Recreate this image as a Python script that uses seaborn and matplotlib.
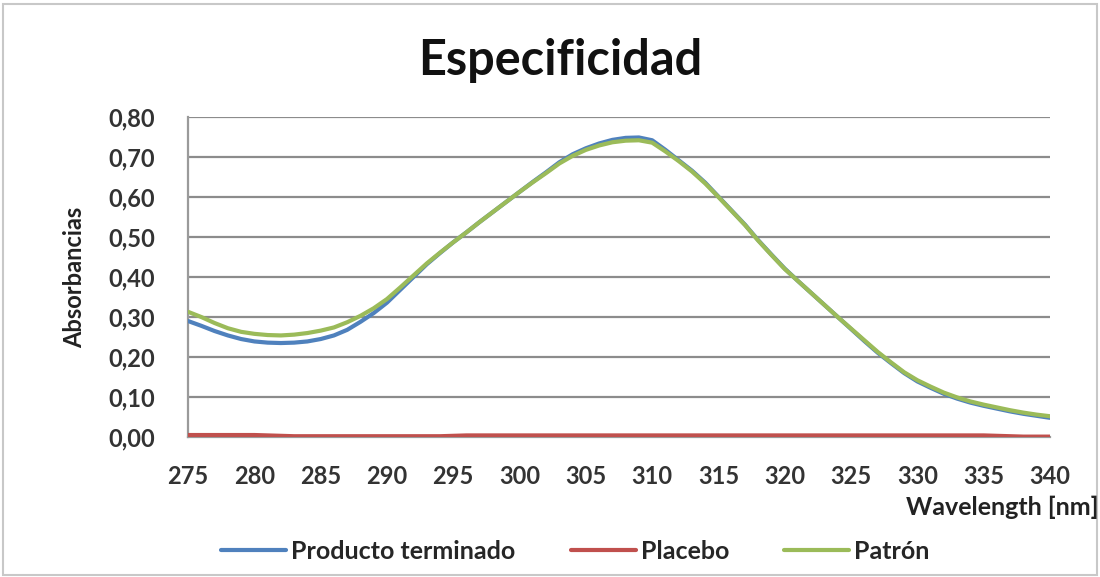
import numpy as np
import pandas as pd
import matplotlib
matplotlib.use("Agg")
import matplotlib.pyplot as plt
import seaborn as sns
from matplotlib.ticker import FuncFormatter, MultipleLocator

# datos (1 nm)
wavelength = list(range(275, 341))

producto = [0.290, 0.278, 0.265, 0.254, 0.245, 0.239, 0.236, 0.235, 0.236, 0.239,
            0.245, 0.254, 0.268, 0.288, 0.310, 0.336, 0.368, 0.400, 0.432, 0.460,
            0.487, 0.512, 0.538, 0.563, 0.588, 0.613, 0.638, 0.662, 0.687, 0.707,
            0.722, 0.734, 0.743, 0.748, 0.749, 0.742, 0.718, 0.692, 0.666, 0.636,
            0.601, 0.566, 0.531, 0.492, 0.456, 0.421, 0.390, 0.360, 0.330, 0.300,
            0.270, 0.240, 0.211, 0.185, 0.160, 0.139, 0.123, 0.108, 0.096, 0.086,
            0.078, 0.071, 0.064, 0.058, 0.053, 0.048]

placebo = [0.005, 0.005, 0.005, 0.005, 0.005, 0.005, 0.004, 0.003, 0.002, 0.002,
           0.002, 0.002, 0.002, 0.002, 0.002, 0.002, 0.002, 0.002, 0.002, 0.002,
           0.003, 0.004, 0.004, 0.004, 0.004, 0.004, 0.004, 0.004, 0.004, 0.004,
           0.004, 0.004, 0.004, 0.004, 0.004, 0.004, 0.004, 0.004, 0.004, 0.004,
           0.004, 0.004, 0.004, 0.004, 0.004, 0.004, 0.004, 0.004, 0.004, 0.004,
           0.004, 0.004, 0.004, 0.004, 0.004, 0.004, 0.004, 0.004, 0.004, 0.004,
           0.004, 0.003, 0.002, 0.001, 0.001, 0.001]

patron = [0.313, 0.300, 0.285, 0.272, 0.263, 0.258, 0.255, 0.254, 0.256, 0.260,
          0.266, 0.274, 0.287, 0.303, 0.322, 0.345, 0.374, 0.404, 0.434, 0.461,
          0.487, 0.512, 0.538, 0.563, 0.588, 0.613, 0.637, 0.660, 0.684, 0.703,
          0.718, 0.729, 0.737, 0.741, 0.742, 0.736, 0.714, 0.690, 0.664, 0.634,
          0.600, 0.565, 0.530, 0.491, 0.455, 0.420, 0.390, 0.360, 0.330, 0.300,
          0.271, 0.242, 0.213, 0.187, 0.162, 0.142, 0.126, 0.111, 0.099, 0.089,
          0.081, 0.074, 0.067, 0.061, 0.056, 0.052]

series = ["Producto terminado", "Placebo", "Patrón"]
colores = ["#4F81BD", "#C0504D", "#9BBB59"]

df = pd.DataFrame({
    "wl": wavelength * 3,
    "abs": producto + placebo + patron,
    "serie": [s for s in series for _ in wavelength],
})

sns.set_style("white")
plt.rcParams["font.family"] = ["Lato", "DejaVu Sans"]

fig = plt.figure(figsize=(11, 5.77), dpi=100)
ax = fig.add_axes([0.171, 0.2426, 0.7835, 0.5545])

sns.lineplot(data=df, x="wl", y="abs", hue="serie", hue_order=series,
             palette=colores, linewidth=3, ax=ax, legend=False, zorder=3)

ax.set_xlim(275, 340)
ax.set_ylim(0, 0.8)
ax.xaxis.set_major_locator(MultipleLocator(5))
ax.yaxis.set_major_locator(MultipleLocator(0.1))
ax.yaxis.set_major_formatter(FuncFormatter(lambda v, p: f"{v:.2f}".replace(".", ",")))
ax.grid(axis="y", color="#8c8c8c", linewidth=1.6)
ax.grid(axis="x", visible=False)
for s in ["top", "right"]:
    ax.spines[s].set_visible(False)
for s in ["left", "bottom"]:
    ax.spines[s].set_color("#9a9a9a")
    ax.spines[s].set_linewidth(1.6)
ax.tick_params(axis="both", direction="out", length=6, width=1.2, color="#9a9a9a",
               labelsize=17, labelcolor="#333333")
ax.tick_params(axis="x", pad=14)
ax.tick_params(axis="y", pad=18)
for lbl in ax.get_xticklabels() + ax.get_yticklabels():
    lbl.set_fontweight("bold")
ax.set_xlabel("")
ax.set_ylabel("Absorbancias", fontsize=17, fontweight="bold", color="#222222", labelpad=16)

fig.text(0.509, 0.896, "Especificidad", ha="center", va="center",
         fontsize=35, fontweight="bold", color="#111111")
fig.text(0.999, 0.12, "Wavelength [nm]", ha="right", va="center",
         fontsize=18, fontweight="bold", color="#222222")

handles = [plt.Line2D([], [], color=c, linewidth=3) for c in colores]
fig.legend(handles, series, loc="center", bbox_to_anchor=(0.523, 0.045), ncol=3,
           frameon=False, handlelength=2.6, handletextpad=0.2,
           columnspacing=2.2, prop={"weight": "bold", "size": 18})

fig.patches.append(plt.Rectangle((0.003, 0.003), 0.994, 0.99, transform=fig.transFigure,
                                 fill=False, edgecolor="#c8c8c8", linewidth=1.5))

fig.savefig("out.png", dpi=100)
